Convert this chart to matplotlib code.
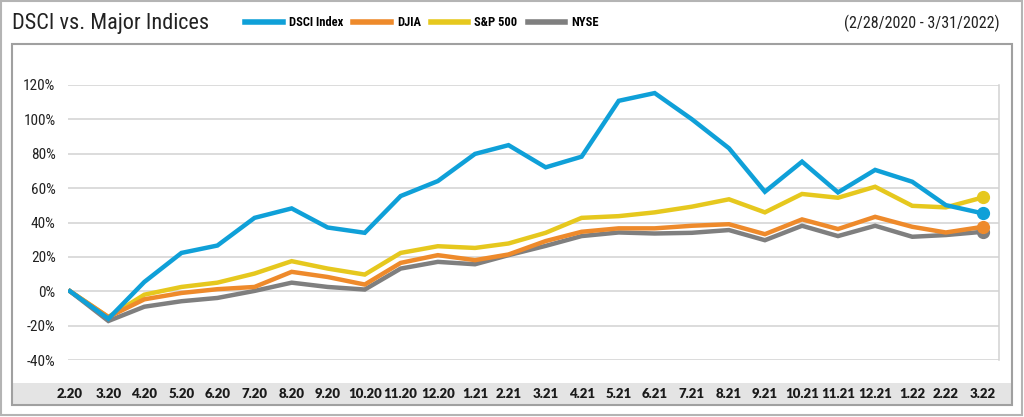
import numpy as np
import matplotlib
matplotlib.use("Agg")
import matplotlib.pyplot as plt
import matplotlib.dates as mdates
from matplotlib.patches import Rectangle
from matplotlib.ticker import FuncFormatter
from matplotlib import font_manager

# month-end dates, 2/28/2020 .. 3/31/2022
dates = np.array([
    "2020-02-28", "2020-03-31", "2020-04-30", "2020-05-31", "2020-06-30",
    "2020-07-31", "2020-08-31", "2020-09-30", "2020-10-31", "2020-11-30",
    "2020-12-31", "2021-01-31", "2021-02-28", "2021-03-31", "2021-04-30",
    "2021-05-31", "2021-06-30", "2021-07-31", "2021-08-31", "2021-09-30",
    "2021-10-31", "2021-11-30", "2021-12-31", "2022-01-31", "2022-02-28",
    "2022-03-31",
], dtype="datetime64[D]")
tick_labels = ["2.20", "3.20", "4.20", "5.20", "6.20", "7.20", "8.20", "9.20",
               "10.20", "11.20", "12.20", "1.21", "2.21", "3.21", "4.21", "5.21",
               "6.21", "7.21", "8.21", "9.21", "10.21", "11.21", "12.21", "1.22",
               "2.22", "3.22"]

# cumulative % change
dsci = [0, -16, 5.4, 22.3, 26.6, 42.7, 48.2, 37.1, 34.0, 55.4, 64.1, 79.9, 85.0,
        72.1, 78.3, 110.8, 115.3, 100.1, 83.2, 57.9, 75.4, 57.5, 70.6, 63.7, 50.1, 45.3]
djia = [0, -15, -4.7, -1.0, 1.2, 2.5, 11.3, 8.3, 3.9, 16.5, 21.0, 18.1, 21.4,
        29.2, 34.6, 36.6, 36.6, 38.1, 39.0, 33.2, 41.8, 36.2, 43.3, 37.5, 34.2, 37.5]
sp500 = [0, -15, -2.0, 2.5, 5.0, 10.3, 17.5, 13.2, 9.7, 22.3, 26.2, 25.2, 27.8,
         34.0, 42.7, 43.7, 45.9, 49.2, 53.5, 45.9, 56.6, 54.4, 60.8, 49.7, 48.8, 54.6]
nyse = [0, -17.3, -9.0, -5.8, -3.9, 0.2, 5.0, 2.5, 1.0, 13.2, 17.1, 15.7, 21.0,
        26.4, 32.1, 34.2, 33.6, 34.0, 35.6, 29.7, 38.1, 32.1, 38.1, 31.7, 32.7, 34.6]

series = [
    ("DSCI Index", dsci, "#0FA0D8"),
    ("DJIA", djia, "#EE8A2B"),
    ("S&P 500", sp500, "#E6C81E"),
    ("NYSE", nyse, "#7F7F7F"),
]
draw_order = ["S&P 500", "NYSE", "DJIA", "DSCI Index"]


def pick(names):
    avail = {f.name for f in font_manager.fontManager.ttflist}
    return [n for n in names if n in avail] + ["DejaVu Sans"]


narrow = pick(["Liberation Sans Narrow", "Roboto Condensed", "Open Sans Condensed"])
bold_font = pick(["Lato", "Open Sans"])

W, H = 1024, 417
fig = plt.figure(figsize=(W / 100, H / 100), dpi=100)


def fx(px):
    return px / W


def fy(py):
    return 1 - py / H


# outer border, inner frame and grey label band (behind the axes)
fig.add_artist(Rectangle((fx(1), fy(415)), fx(1021), 414 / H, transform=fig.transFigure,
                         fill=False, ec="#B4B4B4", lw=1.5, zorder=-2))
fig.add_artist(Rectangle((fx(12), fy(405)), fx(1000), 22 / H, transform=fig.transFigure,
                         fc="#E4E4E4", ec="none", zorder=-2))
fig.add_artist(Rectangle((fx(12), fy(405)), fx(1000), 361 / H, transform=fig.transFigure,
                         fill=False, ec="#A0A0A0", lw=1.5, zorder=-1))

ax = fig.add_axes([fx(68), fy(360), fx(999 - 68), 275 / H])
ax.set_zorder(2)
ax.patch.set_visible(False)

x = mdates.date2num(dates)
for name in draw_order:
    label, vals, color = next(s for s in series if s[0] == name)
    ax.plot(x, vals, color=color, lw=3.2, solid_joinstyle="miter", label=label, zorder=3)
    ax.plot(x[-1], vals[-1], "o", color=color, ms=8.5, zorder=4)

ax.set_ylim(-40, 120)
ax.set_yticks(np.arange(-40, 121, 20))
ax.yaxis.set_major_formatter(FuncFormatter(lambda v, p: f"{v:.0f}%"))
ax.set_xlim(x[0] - 1.7, x[-1] + 13.4)
ax.set_xticks(x)
ax.set_xticklabels(tick_labels)
ax.grid(axis="y", color="#D2D2D2", lw=1.1)
ax.set_axisbelow(True)
for side in ["left", "top", "bottom"]:
    ax.spines[side].set_visible(False)
ax.spines["right"].set_color("#D2D2D2")
ax.spines["right"].set_linewidth(1.1)
ax.tick_params(axis="y", length=0, pad=9, labelsize=11, labelcolor="#222222")
ax.tick_params(axis="x", length=0, pad=20.5, labelsize=9.5, labelcolor="#1A1A1A")
for t in ax.get_yticklabels():
    t.set_family(narrow)
for t in ax.get_xticklabels():
    t.set_family(bold_font)
    t.set_fontweight("heavy")

fig.text(fx(12), fy(24), "DSCI vs. Major Indices", family=narrow, fontsize=16,
         color="#222222", va="center", ha="left")
fig.text(fx(1000), fy(23), "(2/28/2020 - 3/31/2022)", family=narrow, fontsize=11.5,
         color="#222222", va="center", ha="right")

handles = {l.get_label(): l for l in ax.get_lines() if not l.get_label().startswith("_")}
leg = fig.legend([handles[s[0]] for s in series], [s[0] for s in series],
                 loc="center left", bbox_to_anchor=(fx(245), fy(23)), ncol=4,
                 frameon=False, borderpad=0, borderaxespad=0, handlelength=3.0,
                 handletextpad=0.5, columnspacing=0.8,
                 prop={"family": narrow, "size": 9, "weight": "bold"})
for line in leg.get_lines():
    line.set_linewidth(4)

fig.savefig("out.png", dpi=100)
